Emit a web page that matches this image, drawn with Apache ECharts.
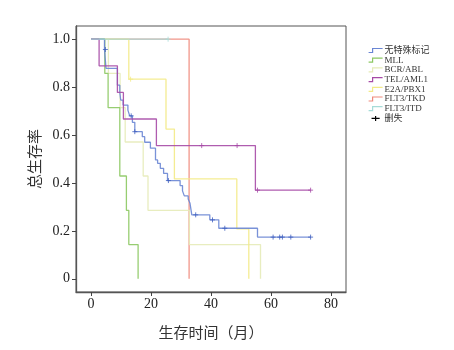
<!DOCTYPE html>
<html>
<head>
<meta charset="utf-8">
<script src="https://cdn.jsdelivr.net/npm/echarts@6/dist/echarts.min.js"></script>
<style>
  html, body { margin: 0; padding: 0; background: #fff; }
  #chart { width: 454px; height: 350px; }
</style>
</head>
<body>
<div id="chart"></div>
<script>
// group names, legend order
const groups = ['无特殊标记', 'MLL', 'BCR/ABL', 'TEL/AML1', 'E2A/PBX1', 'FLT3/TKD', 'FLT3/ITD'];
const censorName = '删失';

// step points (time in months, survival after that time)
const noneT = [0, 4.5, 5.0, 8.8, 9.6, 9.9, 10.7, 12.3, 12.9, 13.8, 14.6, 17.1, 17.9, 19.8, 21.5, 22.2, 23.1, 24.2, 25.5, 29.7, 30.5, 31.1, 32.4, 33.0, 33.6, 39.6, 42.6, 55.5, 73.2];
const noneS = [1, 0.957, 0.878, 0.808, 0.778, 0.746, 0.725, 0.704, 0.68, 0.653, 0.614, 0.593, 0.57, 0.545, 0.496, 0.482, 0.461, 0.44, 0.41, 0.389, 0.367, 0.346, 0.333, 0.315, 0.267, 0.246, 0.211, 0.174, 0.174];
const noneCens = [4.8, 13.4, 14.6, 25.8, 34.9, 40.5, 44.6, 60.7, 62.9, 63.8, 66.6, 73.2];

const mllT = [0, 4.6, 5.7, 9.6, 11.8, 12.6, 15.7];
const mllS = [1, 0.857, 0.714, 0.429, 0.286, 0.143, 0];
const mllCens = [];

const bcrT = [0, 5.8, 9.7, 11.4, 17.4, 19.0, 32.8, 56.5];
const bcrS = [1, 0.857, 0.714, 0.571, 0.429, 0.286, 0.143, 0];
const bcrCens = [];

const telT = [0, 2.7, 8.8, 10.8, 21.8, 54.8, 73.2];
const telS = [1, 0.889, 0.778, 0.667, 0.556, 0.37, 0.37];
const telCens = [36.9, 48.7, 55.5, 73.2];

const e2aT = [0, 12.6, 25.0, 27.8, 48.6, 52.6];
const e2aS = [1, 0.833, 0.625, 0.417, 0.208, 0];
const e2aCens = [13.2];

const tkdT = [0, 32.7];
const tkdS = [1, 0];
const tkdCens = [];

const itdT = [0, 25.7];
const itdS = [1, 1];
const itdCens = [25.7];

const xTicks = [0, 20, 40, 60, 80];
const yTicks = [0, 0.2, 0.4, 0.6, 0.8, 1.0];

const colors = ['#6a86d4', '#8cc862', '#e6ebb8', '#a64aa6', '#f3ea86', '#ef8a7c', '#a6dcd8'];
const curves = [
  [noneT, noneS, noneCens],
  [mllT, mllS, mllCens],
  [bcrT, bcrS, bcrCens],
  [telT, telS, telCens],
  [e2aT, e2aS, e2aCens],
  [tkdT, tkdS, tkdCens],
  [itdT, itdS, itdCens]
];
// draw order: lower first
const drawOrder = [5, 2, 4, 1, 0, 3, 6];

const serif = '"Liberation Serif", "Noto Sans CJK SC", serif';
const cjk = '"Noto Sans CJK SC", sans-serif';
const plusPath = 'path://M0,4.5 L9,4.5 M4.5,0 L4.5,9';
const stepPath = 'path://M0,4 L4,4 L4,0 L14,0';

// survival value of a step curve at time t
function survAt(T, S, t) {
  let v = S[0];
  for (let i = 0; i < T.length; i++) if (T[i] <= t + 1e-9) v = S[i];
  return v;
}

const chart = echarts.init(document.getElementById('chart'));

const series = [];
drawOrder.forEach(i => {
  const [T, S] = curves[i];
  series.push({
    name: groups[i],
    type: 'line',
    step: 'end',
    symbol: 'none',
    color: colors[i],
    lineStyle: { width: 1.3, opacity: 0.9 },
    data: T.map((t, k) => [t, S[k]]),
    z: 2
  });
});
drawOrder.forEach(i => {
  const [T, S, C] = curves[i];
  if (!C.length) return;
  series.push({
    name: groups[i],
    type: 'scatter',
    symbol: plusPath,
    symbolSize: 5,
    color: colors[i],
    itemStyle: { borderColor: i === 0 ? '#3f5fbf' : colors[i], borderWidth: 1 },
    data: C.map(t => [t, survAt(T, S, t)]),
    z: 3
  });
});
series.push({ name: censorName, type: 'line', color: '#000', data: [] });

chart.setOption({
  animation: false,
  grid: { left: 76, right: 108, top: 26, bottom: 58, show: true, borderColor: '#555', borderWidth: 1 },
  legend: {
    orient: 'vertical',
    left: 363,
    top: 41,
    itemWidth: 14,
    itemHeight: 5,
    itemGap: 0.7,
    textStyle: { fontFamily: serif, fontSize: 9, color: '#333', lineHeight: 9, padding: [0, 0, 0, -3] },
    data: groups.map((g, i) => ({
      name: g,
      icon: stepPath,
      itemStyle: { color: 'rgba(0,0,0,0)', borderColor: colors[i], borderWidth: 1.2 }
    })).concat([{
      name: censorName,
      icon: 'path://M0,4 L13,4 M6.5,0 L6.5,8',
      itemStyle: { color: 'rgba(0,0,0,0)', borderColor: '#000', borderWidth: 1.2 }
    }])
  },
  xAxis: {
    type: 'value',
    min: -5,
    max: 85,
    name: '生存时间（月）',
    nameLocation: 'middle',
    nameGap: 33,
    nameTextStyle: { fontFamily: cjk, fontSize: 15, color: '#333' },
    axisLine: { onZero: false, lineStyle: { color: '#555', width: 1.3 } },
    axisTick: { customValues: xTicks, length: 4, lineStyle: { color: '#444' } },
    axisLabel: { customValues: xTicks, fontFamily: serif, fontSize: 14, color: '#222', margin: 5 },
    splitLine: { show: false }
  },
  yAxis: {
    type: 'value',
    min: -0.055,
    max: 1.055,
    name: '总生存率',
    nameLocation: 'middle',
    nameGap: 28,
    nameRotate: 90,
    nameTextStyle: { fontFamily: cjk, fontSize: 15, color: '#333' },
    axisLine: { onZero: false, lineStyle: { color: '#555', width: 1.3 } },
    axisTick: { customValues: yTicks, length: 4, lineStyle: { color: '#444' } },
    axisLabel: {
      customValues: yTicks,
      fontFamily: serif, fontSize: 14, color: '#222', margin: 6,
      formatter: v => (Math.abs(v) < 1e-9 ? '0' : v.toFixed(1))
    },
    splitLine: { show: false }
  },
  series: series
});
</script>
</body>
</html>
